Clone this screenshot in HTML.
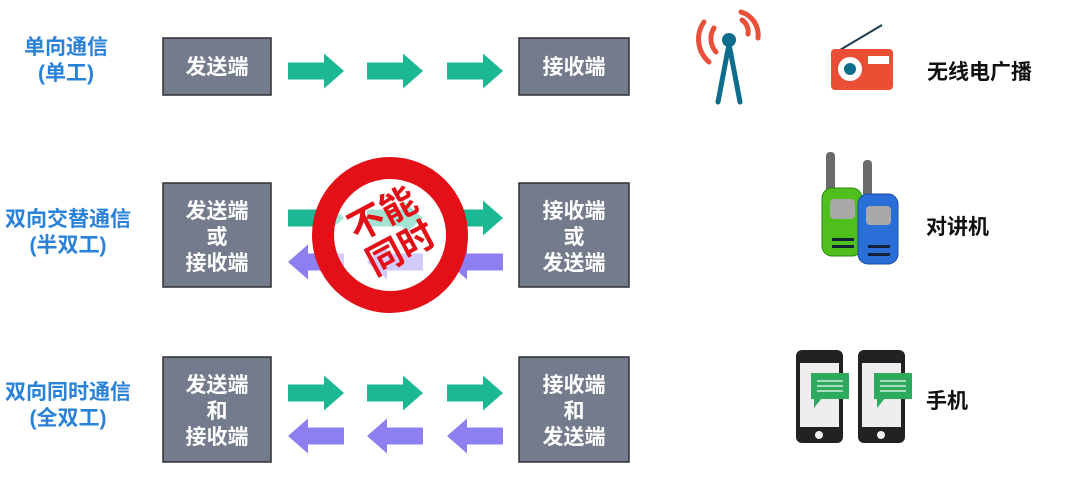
<!DOCTYPE html>
<html><head><meta charset="utf-8"><style>
html,body{margin:0;padding:0;background:#fff;}
body{width:1065px;height:479px;overflow:hidden;position:relative;font-family:"Liberation Sans","Noto Sans CJK SC",sans-serif;}
</style></head><body>
<svg width="1065" height="479" viewBox="0 0 1065 479" xmlns="http://www.w3.org/2000/svg" font-family="Liberation Sans, Noto Sans CJK SC, sans-serif">
<defs>
<g id="ga"><polygon points="0,-8.5 36,-8.5 36,-17.5 56,0 36,17.5 36,8.5 0,8.5" fill="#1bb893"/></g>
<g id="pa"><polygon points="56,-8.5 20,-8.5 20,-17.5 0,0 20,17.5 20,8.5 56,8.5" fill="#8c7ff0"/></g>
</defs>
<g fill="#2a82d8" font-weight="bold" font-size="21" text-anchor="middle">
<text x="66" y="54">单向通信</text><text x="66" y="80">(单工)</text>
<text x="68" y="226">双向交替通信</text><text x="68" y="252">(半双工)</text>
<text x="68" y="399">双向同时通信</text><text x="68" y="425">(全双工)</text>
</g>
<g fill="#737b8c" stroke="#2f2f35" stroke-width="1.5">
<rect x="163" y="38" width="108" height="57"/><rect x="519" y="38" width="110" height="57"/>
<rect x="163" y="183" width="108" height="104"/><rect x="519" y="183" width="110" height="104"/>
<rect x="163" y="357" width="108" height="105"/><rect x="519" y="357" width="110" height="105"/>
</g>
<g fill="#fff" font-weight="bold" font-size="21" text-anchor="middle">
<text x="217" y="74">发送端</text><text x="574" y="74">接收端</text>
<text x="217" y="218">发送端</text><text x="217" y="244">或</text><text x="217" y="270">接收端</text>
<text x="574" y="218">接收端</text><text x="574" y="244">或</text><text x="574" y="270">发送端</text>
<text x="217" y="392">发送端</text><text x="217" y="418">和</text><text x="217" y="444">接收端</text>
<text x="574" y="392">接收端</text><text x="574" y="418">和</text><text x="574" y="444">发送端</text>
</g>
<use href="#ga" x="288" y="71"/><use href="#ga" x="367" y="71"/><use href="#ga" x="447" y="71"/>
<use href="#ga" x="288" y="218"/><use href="#ga" x="447" y="218"/>
<use href="#pa" x="288" y="262"/><use href="#pa" x="447" y="262"/><use href="#pa" x="367" y="262"/><use href="#ga" x="367" y="218"/>
<use href="#ga" x="288" y="393"/><use href="#ga" x="367" y="393"/><use href="#ga" x="447" y="393"/>
<use href="#pa" x="288" y="436"/><use href="#pa" x="367" y="436"/><use href="#pa" x="447" y="436"/>
<circle cx="390" cy="235" r="67" fill="rgba(255,255,255,0.6)" stroke="#e41018" stroke-width="22"/>
<g transform="rotate(-28 392 232)" fill="#e41018" font-weight="bold" font-size="36" text-anchor="middle">
<text x="392" y="224">不能</text><text x="392" y="263">同时</text>
</g>
<g fill="none" stroke="#e8503a" stroke-width="5" stroke-linecap="round">
<path d="M716,52 A20,20 0 0 1 714,28"/><path d="M709,62 A30,30 0 0 1 704,22"/>
<path d="M742,20 A14,14 0 0 1 748,34"/><path d="M741,12 A24,24 0 0 1 758,38"/>
</g>
<circle cx="729" cy="40" r="7" fill="#0e6d8c"/>
<g stroke="#0e6d8c" stroke-width="5" stroke-linecap="round"><line x1="729" y1="44" x2="718" y2="102"/><line x1="729" y1="44" x2="740" y2="102"/></g>
<line x1="840" y1="50" x2="882" y2="25" stroke="#1e3c50" stroke-width="2"/>
<rect x="831" y="49" width="62" height="41" rx="4" fill="#ea4e35"/>
<circle cx="850" cy="69" r="12" fill="#fff"/><circle cx="850" cy="69" r="6" fill="#0e6d8c"/>
<rect x="868" y="56" width="21" height="8" fill="#fff"/>
<text x="927" y="79" font-weight="bold" font-size="21" fill="#111">无线电广播</text>
<rect x="826" y="152" width="9" height="45" rx="4" fill="#6b6b6b"/>
<rect x="822" y="188" width="40" height="68" rx="10" fill="#4fbf1e" stroke="#2b8a10" stroke-width="1"/>
<rect x="830" y="199" width="25" height="20" rx="4" fill="#a9a9a9"/>
<rect x="832" y="238" width="22" height="3" fill="#123"/><rect x="832" y="245" width="22" height="3" fill="#123"/>
<rect x="863" y="160" width="9" height="40" rx="4" fill="#6b6b6b"/>
<rect x="858" y="194" width="40" height="70" rx="10" fill="#2a6fd8" stroke="#1a4aa0" stroke-width="1"/>
<rect x="866" y="206" width="25" height="19" rx="4" fill="#a9a9a9"/>
<rect x="868" y="245" width="22" height="3" fill="#123"/><rect x="868" y="253" width="22" height="3" fill="#123"/>
<text x="926" y="234" font-weight="bold" font-size="21" fill="#111">对讲机</text>
<rect x="796" y="350" width="47" height="93" rx="6" fill="#222"/>
<rect x="800" y="363" width="39" height="64" fill="#eee"/>
<circle cx="819" cy="435" r="4" fill="#eee"/>
<rect x="811" y="373" width="38" height="26" fill="#2eaa5e"/><polygon points="814,398 822,398 814,408" fill="#2eaa5e"/>
<g stroke="#cfeedd" stroke-width="1.5"><line x1="817" y1="381" x2="843" y2="381"/><line x1="817" y1="386" x2="843" y2="386"/><line x1="817" y1="391" x2="843" y2="391"/></g>
<rect x="858" y="350" width="47" height="93" rx="6" fill="#222"/>
<rect x="862" y="363" width="39" height="64" fill="#eee"/>
<circle cx="881" cy="435" r="4" fill="#eee"/>
<rect x="874" y="373" width="38" height="26" fill="#2eaa5e"/><polygon points="877,398 885,398 877,408" fill="#2eaa5e"/>
<g stroke="#cfeedd" stroke-width="1.5"><line x1="880" y1="381" x2="906" y2="381"/><line x1="880" y1="386" x2="906" y2="386"/><line x1="880" y1="391" x2="906" y2="391"/></g>
<text x="926" y="408" font-weight="bold" font-size="21" fill="#111">手机</text>
</svg>
</body></html>
